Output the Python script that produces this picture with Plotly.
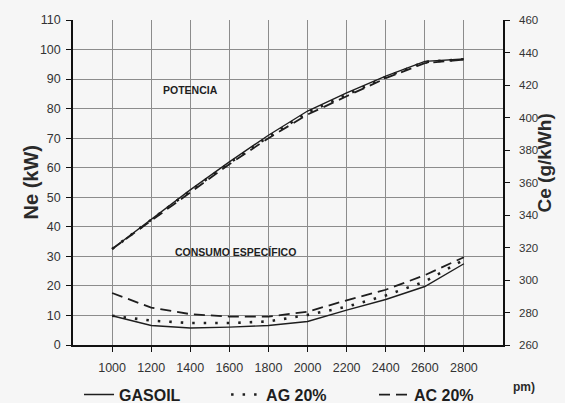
import plotly.graph_objects as go

# Engine speed (rpm)
rpm = [1000, 1200, 1400, 1600, 1800, 2000, 2200, 2400, 2600, 2800]

# Effective power Ne (kW)
ne_gasoil = [32.5, 42.5, 52.5, 62.0, 71.0, 79.2, 85.3, 91.0, 96.0, 96.8]
ne_ag20 = [32.5, 42.3, 52.2, 61.6, 70.5, 78.7, 84.8, 90.7, 95.8, 96.7]
ne_ac20 = [32.5, 42.0, 51.8, 61.2, 70.0, 78.0, 84.2, 90.3, 95.4, 96.6]

# Specific fuel consumption Ce (g/kWh)
ce_gasoil = [278, 272, 270.5, 271, 272, 274.5, 281.5, 288, 296, 310]
ce_ag20 = [278, 275, 273.5, 273.5, 274.5, 278.5, 283.5, 290.5, 299, 312.5]
ce_ac20 = [292, 283, 279, 277.5, 277.5, 280.5, 287.5, 294, 303, 314]

series_names = ["GASOIL", "AG 20%", "AC 20%"]
x_ticks = [1000, 1200, 1400, 1600, 1800, 2000, 2200, 2400, 2600, 2800]
ne_ticks = list(range(0, 111, 10))
ce_ticks = list(range(260, 461, 20))

INK = "#1e1e1e"
styles = [
    dict(color=INK, width=1.4, dash="solid"),
    dict(color=INK, width=2.6, dash="2.5px,9px"),
    dict(color=INK, width=1.8, dash="11px,6px"),
]
# one legend box per fuel, laid out along the bottom edge
legend_ids = ["legend", "legend2", "legend3"]
legend_x = [0.014, 0.356, 0.700]

fig = go.Figure()

for name, ne, st in zip(series_names, [ne_gasoil, ne_ag20, ne_ac20], styles):
    fig.add_trace(go.Scatter(x=rpm, y=ne, mode="lines", name=name,
                             line=st, legendgroup=name, showlegend=False,
                             yaxis="y"))

for name, ce, st, lg in zip(series_names, [ce_gasoil, ce_ag20, ce_ac20], styles, legend_ids):
    fig.add_trace(go.Scatter(x=rpm, y=ce, mode="lines", name=name,
                             line=st, legendgroup=name, showlegend=True,
                             legend=lg, yaxis="y2"))

BG = "#f6f6f6"
GRID = "#8c8c8c"
TICKFONT = dict(family="Liberation Sans, Arial", size=12.5, color="#333333")
RTICKFONT = dict(family="Liberation Sans, Arial", size=11.5, color="#333333")
LEGFONT = dict(family="Liberation Sans, Arial", size=16, color=INK, weight="bold")

legend_layout = {
    lg: dict(orientation="h", x=lx, xanchor="left", y=-0.205, yanchor="bottom",
             bgcolor="rgba(0,0,0,0)", font=LEGFONT, itemwidth=30)
    for lg, lx in zip(legend_ids, legend_x)
}

fig.update_layout(
    width=565, height=403,
    margin=dict(l=73, r=62, t=20, b=58, autoexpand=False),
    paper_bgcolor=BG, plot_bgcolor=BG,
    xaxis=dict(
        range=[800, 3000], tickvals=x_ticks, ticktext=[str(v) for v in x_ticks],
        showgrid=True, gridcolor=GRID, gridwidth=1,
        showline=True, linecolor="#111111", linewidth=1.5,
        ticks="outside", ticklen=5, tickcolor="#111111",
        tickfont=TICKFONT, zeroline=False, ticklabelstandoff=5,
    ),
    yaxis=dict(
        range=[0, 110], tickvals=ne_ticks,
        showgrid=True, gridcolor=GRID, gridwidth=1,
        showline=True, linecolor="#111111", linewidth=1.5,
        ticks="outside", ticklen=5, tickcolor="#111111",
        tickfont=TICKFONT, zeroline=False, ticklabelstandoff=3,
    ),
    yaxis2=dict(
        range=[260, 460], tickvals=ce_ticks, overlaying="y", side="right",
        showgrid=False, showline=True, linecolor="#111111", linewidth=1.5,
        ticks="outside", ticklen=5, tickcolor="#111111",
        tickfont=RTICKFONT, zeroline=False, ticklabelstandoff=7,
    ),
    yaxis3=dict(
        range=[260, 460], tickvals=ce_ticks, overlaying="y", side="right",
        showgrid=False, showline=False, showticklabels=False,
        ticks="inside", ticklen=5, tickcolor="#111111", zeroline=False,
    ),
    showlegend=True,
    **legend_layout,
)

# Curve group labels
fig.add_annotation(x=1400, y=86.2, xref="x", yref="y", text="POTENCIA",
                   showarrow=False,
                   font=dict(family="Liberation Sans, Arial", size=10.5, color=INK, weight="bold"))
fig.add_annotation(x=1630, y=31.6, xref="x", yref="y", text="CONSUMO ESPECÍFICO",
                   showarrow=False,
                   font=dict(family="Liberation Sans, Arial", size=10.5, color=INK, weight="bold"))

# Axis titles
fig.add_annotation(x=-0.128, y=0.5, xref="paper", yref="paper", text="Ne (kW)",
                   textangle=-90, showarrow=False,
                   font=dict(family="Liberation Sans, Arial", size=20, color="#2a2a2a", weight="bold"))
fig.add_annotation(x=1.1256, y=0.56, xref="paper", yref="paper", text="Ce (g/kWh)",
                   textangle=-90, showarrow=False,
                   font=dict(family="Liberation Sans, Arial", size=19, color="#2a2a2a", weight="bold"))
fig.add_annotation(x=1.019, y=-0.158, xref="paper", yref="paper", text="pm)",
                   showarrow=False, xanchor="left",
                   font=dict(family="Liberation Sans, Arial", size=12, color="#2a2a2a", weight="bold"))

fig.write_html("out.html")
